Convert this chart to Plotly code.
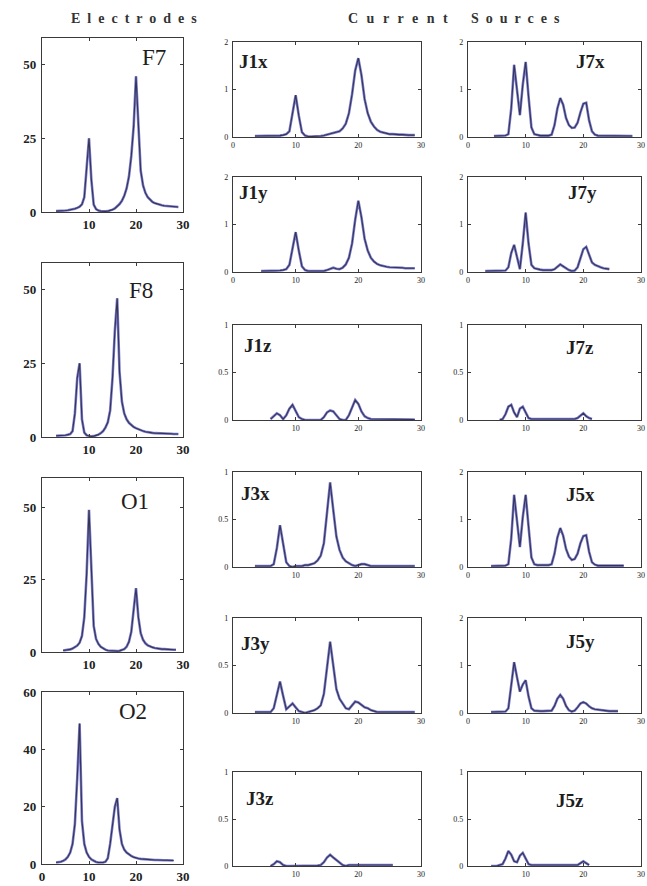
import plotly.graph_objects as go

W, H = 647, 886

# ---------------- data ----------------
freq = [3.0, 3.5, 4.0, 4.5, 5.0, 5.5, 6.0, 6.5, 7.0, 7.5,
        8.0, 8.5, 9.0, 9.5, 10.0, 10.5, 11.0, 11.5, 12.0, 12.5,
        13.0, 13.5, 14.0, 14.5, 15.0, 15.5, 16.0, 16.5, 17.0, 17.5,
        18.0, 18.5, 19.0, 19.5, 20.0, 20.5, 21.0, 21.5, 22.0, 22.5,
        23.0, 23.5, 24.0, 24.5, 25.0, 25.5, 26.0, 26.5, 27.0, 27.5,
        28.0, 28.5, 29.0]

F7 = [0.3, 0.3, 0.4, 0.5, 0.5, 0.6, 0.7, 0.9, 1.1, 1.4,
      1.8, 2.6, 5.0, 15, 25, 11, 2.5, 1.0, 0.5, 0.3,
      0.2, 0.2, 0.3, 0.5, 0.8, 1.2, 1.8, 2.7, 3.8, 5.5,
      8.0, 12, 19, 29, 46, 27, 14, 9.0, 6.5, 5.0,
      4.0, 3.4, 3.0, 2.7, 2.5, 2.3, 2.1, 2.0, 1.9, 1.9,
      1.8, 1.7, 1.7]
F8 = [0.4, 0.4, 0.5, 0.5, 0.6, 0.8, 1.0, 2.0, 8.0, 20,
      25, 6.0, 1.5, 0.6, 0.3, 0.2, 0.3, 0.5, 0.8, 1.3,
      2.0, 3.2, 5.0, 9.0, 20, 36, 47, 22, 12, 8.0,
      6.0, 4.8, 4.0, 3.4, 3.0, 2.6, 2.3, 2.0, 1.8, 1.6,
      1.5, 1.4, 1.3, 1.3, 1.2, 1.2, 1.2, 1.1, 1.1, 1.1,
      1.0, 1.0, 1.0]
O1 = [None, None, None, 0.5, 0.6, 0.7, 0.9, 1.2, 1.6, 2.2,
      3.2, 5.5, 12, 27, 49, 26, 9.0, 4.5, 2.8, 1.8,
      1.2, 0.8, 0.5, 0.4, 0.3, 0.3, 0.3, 0.4, 0.6, 1.0,
      1.8, 3.5, 7.0, 14, 22, 12, 6.5, 4.2, 3.0, 2.3,
      1.9, 1.6, 1.4, 1.2, 1.1, 1.0, 1.0, 0.9, 0.9, 0.9,
      0.8, 0.8, None]
O2 = [0.5, 0.6, 0.8, 1.1, 1.6, 2.5, 4.0, 7.0, 14, 30,
      49, 15, 7.0, 4.0, 2.5, 1.6, 1.0, 0.7, 0.5, 0.4,
      0.5, 0.8, 2.0, 7.0, 14, 20, 23, 12, 7.0, 5.0,
      4.0, 3.3, 2.8, 2.4, 2.1, 1.9, 1.8, 1.7, 1.6, 1.5,
      1.5, 1.4, 1.4, 1.4, 1.3, 1.3, 1.3, 1.3, 1.2, 1.2,
      1.2, None, None]

J1x = [None, 0.02, 0.02, 0.02, 0.02, 0.02, 0.02, 0.02, 0.03, 0.03,
       0.04, 0.06, 0.12, 0.5, 0.88, 0.45, 0.1, 0.03, 0.01, 0.01,
       0.01, 0.01, 0.02, 0.03, 0.05, 0.07, 0.08, 0.1, 0.12, 0.18,
       0.28, 0.5, 0.9, 1.4, 1.66, 1.3, 0.8, 0.5, 0.32, 0.22,
       0.15, 0.11, 0.09, 0.07, 0.06, 0.06, 0.05, 0.05, 0.05, 0.04,
       0.04, 0.04, 0.04]
J1y = [None, None, None, 0.02, 0.02, 0.02, 0.02, 0.02, 0.02, 0.03,
       0.04, 0.06, 0.15, 0.5, 0.84, 0.45, 0.12, 0.04, 0.02, 0.02,
       0.02, 0.02, 0.02, 0.02, 0.04, 0.07, 0.09, 0.07, 0.06, 0.09,
       0.16, 0.3, 0.6, 1.1, 1.5, 1.15, 0.7, 0.45, 0.3, 0.22,
       0.17, 0.14, 0.12, 0.11, 0.1, 0.1, 0.09, 0.09, 0.09, 0.08,
       0.08, 0.08, 0.08]
J1z = [None, None, None, None, None, None, 0.01, 0.04, 0.07, 0.05,
       0.01, 0.05, 0.12, 0.16, 0.1, 0.03, 0.01, 0.0, 0.0, 0.0,
       0.0, 0.0, 0.0, 0.03, 0.08, 0.1, 0.09, 0.05, 0.01, 0.0,
       0.0, 0.05, 0.14, 0.21, 0.17, 0.09, 0.04, 0.02, 0.01, 0.01,
       0.005, 0.005, 0.005, 0.005, 0.005, 0.005, 0.005, 0.005, 0.005, 0.005,
       0.005, 0.005, 0.005]
J3x = [None, 0.01, 0.01, 0.01, 0.01, 0.01, 0.01, 0.03, 0.2, 0.44,
       0.25, 0.05, 0.01, 0.0, 0.01, 0.01, 0.01, 0.02, 0.02, 0.03,
       0.04, 0.07, 0.12, 0.25, 0.55, 0.89, 0.6, 0.32, 0.18, 0.1,
       0.06, 0.04, 0.02, 0.01, 0.02, 0.03, 0.03, 0.02, 0.01, 0.01,
       0.01, 0.01, 0.01, 0.01, 0.01, 0.01, 0.01, 0.01, 0.01, 0.01,
       0.01, 0.01, 0.01]
J3y = [None, 0.01, 0.01, 0.01, 0.01, 0.01, 0.01, 0.05, 0.2, 0.33,
       0.18, 0.04, 0.07, 0.1, 0.06, 0.02, 0.01, 0.0, 0.01, 0.02,
       0.03, 0.05, 0.08, 0.2, 0.45, 0.75, 0.5, 0.25, 0.15, 0.1,
       0.05, 0.04, 0.08, 0.12, 0.11, 0.08, 0.06, 0.05, 0.03, 0.02,
       0.01, 0.01, 0.01, 0.01, 0.01, 0.01, 0.01, 0.01, 0.01, 0.01,
       0.01, 0.01, 0.01]
J3z = [None, None, None, None, None, None, 0.0, 0.02, 0.05, 0.04,
       0.01, 0.0, 0.0, 0.0, 0.0, 0.0, 0.0, 0.0, 0.0, 0.0,
       0.0, 0.005, 0.01, 0.04, 0.09, 0.12, 0.09, 0.06, 0.03, 0.01,
       0.0, 0.01, 0.01, 0.01, 0.01, 0.01, 0.01, 0.01, 0.01, 0.01,
       0.01, 0.01, 0.01, 0.01, 0.01, 0.01, None, None, None, None,
       None, None, None]
J7x = [None, None, None, 0.02, 0.02, 0.02, 0.02, 0.03, 0.06, 0.6,
       1.52, 0.95, 0.46, 1.1, 1.58, 0.85, 0.2, 0.06, 0.04, 0.03,
       0.03, 0.03, 0.03, 0.05, 0.25, 0.6, 0.82, 0.68, 0.4, 0.25,
       0.19, 0.2, 0.3, 0.52, 0.7, 0.72, 0.35, 0.12, 0.05, 0.03,
       0.03, 0.03, 0.03, 0.03, 0.03, 0.03, 0.03, 0.03, 0.03, 0.03,
       0.03, 0.02, None]
J7y = [0.02, 0.02, 0.02, 0.02, 0.02, 0.02, 0.02, 0.03, 0.1, 0.4,
       0.57, 0.3, 0.06, 0.6, 1.25, 0.6, 0.15, 0.08, 0.06, 0.05,
       0.04, 0.04, 0.04, 0.04, 0.06, 0.11, 0.16, 0.12, 0.07, 0.04,
       0.02, 0.03, 0.1, 0.3, 0.48, 0.53, 0.35, 0.2, 0.15, 0.12,
       0.1, 0.08, 0.07, 0.06, None, None, None, None, None, None,
       None, None, None]
J7z = [None, None, None, None, None, 0.0, 0.01, 0.06, 0.14, 0.16,
       0.08, 0.03, 0.12, 0.14, 0.07, 0.02, 0.01, 0.01, 0.01, 0.01,
       0.01, 0.01, 0.01, 0.01, 0.01, 0.01, 0.01, 0.01, 0.01, 0.01,
       0.01, 0.01, 0.02, 0.05, 0.07, 0.04, 0.02, 0.01, None, None,
       None, None, None, None, None, None, None, None, None, None,
       None, None, None]
J5x = [None, None, 0.02, 0.02, 0.02, 0.02, 0.02, 0.03, 0.06, 0.6,
       1.52, 0.95, 0.42, 1.05, 1.52, 0.85, 0.2, 0.06, 0.04, 0.04,
       0.04, 0.04, 0.04, 0.06, 0.28, 0.62, 0.82, 0.66, 0.38, 0.22,
       0.15, 0.17, 0.28, 0.5, 0.65, 0.67, 0.32, 0.1, 0.05, 0.03,
       0.03, 0.03, 0.03, 0.03, 0.03, 0.03, 0.03, 0.03, 0.03, None,
       None, None, None]
J5y = [None, None, 0.02, 0.02, 0.02, 0.02, 0.02, 0.03, 0.1, 0.6,
       1.07, 0.75, 0.45, 0.6, 0.69, 0.35, 0.1, 0.05, 0.04, 0.04,
       0.04, 0.04, 0.04, 0.05, 0.15, 0.3, 0.38, 0.3, 0.15, 0.06,
       0.03, 0.05, 0.12, 0.2, 0.23, 0.2, 0.14, 0.1, 0.08, 0.07,
       0.06, 0.05, 0.05, 0.04, 0.04, 0.04, 0.04, None, None, None,
       None, None, None]
J5z = [None, None, 0.0, 0.0, 0.0, 0.01, 0.02, 0.08, 0.16, 0.12,
       0.05, 0.04, 0.11, 0.14, 0.08, 0.02, 0.01, 0.01, 0.01, 0.01,
       0.01, 0.01, 0.01, 0.01, 0.01, 0.01, 0.01, 0.01, 0.01, 0.01,
       0.01, 0.01, 0.01, 0.03, 0.05, 0.03, 0.01, None, None, None,
       None, None, None, None, None, None, None, None, None, None,
       None, None, None]

electrode_names = ["F7", "F8", "O1", "O2"]
electrode_values = [F7, F8, O1, O2]
source_left_names = ["J1x", "J1y", "J1z", "J3x", "J3y", "J3z"]
source_left_values = [J1x, J1y, J1z, J3x, J3y, J3z]
source_right_names = ["J7x", "J7y", "J7z", "J5x", "J5y", "J5z"]
source_right_values = [J7x, J7y, J7z, J5x, J5y, J5z]

# ---------------- layout geometry (pixels) ----------------
elec_x = (42, 183)
elec_rows = [(38, 212), (263, 437), (478, 652), (692, 864)]
elec_yrange = [[0, 59], [0, 59], [0, 60], [0, 60]]
elec_ytick = [[0, 25, 50], [0, 25, 50], [0, 25, 50], [0, 20, 40, 60]]
elec_xtick = [[10, 20, 30], [10, 20, 30], [10, 20, 30], [0, 10, 20, 30]]
elec_label_pos = [(154, 57), (141, 290), (135, 501), (133, 711)]

mid_x = (233, 421)
right_x = (468, 641)
src_rows = [(42, 137), (177, 272), (325, 420), (472, 567), (618, 713), (772, 866)]
left_src_big = [True, True, False, False, False, False]
right_src_big = [True, True, False, True, True, False]
left_label_pos = [(253, 62), (253, 192), (258, 345), (255, 493), (255, 643), (260, 798)]
right_label_pos = [(590, 62), (582, 192), (580, 347), (580, 494), (580, 641), (570, 800)]

SERIF = "Liberation Serif"
AX = "#3a3a3a"
BLUE = "#7c7cd2"
DARK = "#353552"

fig = go.Figure()
layout = dict(width=W, height=H, margin=dict(l=0, r=0, t=0, b=0, pad=0, autoexpand=False),
              paper_bgcolor="white", plot_bgcolor="white", showlegend=False)
annotations = []
idx = [0]


def add_panel(vals, xbox, ybox, yrange, ytv, ytt, xtv, tick_font):
    idx[0] += 1
    i = idx[0]
    xa = "x" if i == 1 else f"x{i}"
    ya = "y" if i == 1 else f"y{i}"
    for col, wid in ((BLUE, 2.6), (DARK, 1.1)):
        fig.add_trace(go.Scatter(x=freq, y=vals, mode="lines", xaxis=xa, yaxis=ya,
                                 line=dict(color=col, width=wid), connectgaps=False,
                                 hoverinfo="skip"))
    common = dict(showgrid=False, zeroline=False, showline=True, linecolor=AX, linewidth=1.4,
                  mirror="allticks", ticks="inside", ticklen=3, tickcolor=AX, tickwidth=1,
                  tickfont=tick_font, automargin=False)
    layout["xaxis" if i == 1 else f"xaxis{i}"] = dict(
        domain=[xbox[0] / W, xbox[1] / W], anchor=ya, range=[0, 30],
        tickmode="array", tickvals=xtv, ticktext=[str(v) for v in xtv], ticklabelstandoff=0, **common)
    layout["yaxis" if i == 1 else f"yaxis{i}"] = dict(
        domain=[1 - ybox[1] / H, 1 - ybox[0] / H], anchor=xa, range=yrange,
        tickmode="array", tickvals=ytv, ticktext=ytt, ticklabelstandoff=2, **common)


def add_label(text, pos, size, bold=True):
    annotations.append(dict(text=text, x=pos[0] / W, y=1 - pos[1] / H, xref="paper", yref="paper",
                            xanchor="center", yanchor="middle", showarrow=False,
                            font=dict(family=SERIF, size=size, color="#1e1e1e",
                                      weight="bold" if bold else "normal")))


elec_font = dict(family=SERIF, size=13, color="#222", weight="bold")
src_font = dict(family=SERIF, size=8, color="#222")

for k in range(4):
    add_panel(electrode_values[k], elec_x, elec_rows[k], elec_yrange[k],
              elec_ytick[k], [str(v) for v in elec_ytick[k]], elec_xtick[k], elec_font)
    add_label(electrode_names[k], elec_label_pos[k], 23, bold=False)

for k in range(6):
    for names, values, xb, bigs, lpos in ((source_left_names, source_left_values, mid_x, left_src_big, left_label_pos),
                                          (source_right_names, source_right_values, right_x, right_src_big, right_label_pos)):
        big = bigs[k]
        yr = [0, 2] if big else [0, 1]
        ytv = [0, 1, 2] if big else [0, 0.5, 1]
        ytt = ["0", "1", "2"] if big else ["0", "0.5", "1"]
        xtv = [0, 10, 20, 30] if big else [10, 20, 30]
        add_panel(values[k], xb, src_rows[k], yr, ytv, ytt, xtv, src_font)
        add_label(names[k], lpos[k], 19, bold=True)

hdr = dict(family=SERIF, size=14, color="#333", weight="bold")
for txt, px, sp in (("Electrodes", 137, 7), ("Current", 402, 8.5), ("Sources", 518, 7)):
    annotations.append(dict(text=f'<span style="letter-spacing:{sp}px">{txt}</span>',
                            x=px / W, y=1 - 18 / H, xref="paper", yref="paper",
                            xanchor="center", yanchor="middle", showarrow=False, font=hdr))

layout["annotations"] = annotations
fig.update_layout(**layout)
fig.write_html("out.html", config={"displayModeBar": False},
               post_script="document.body.style.margin='0';document.body.style.overflow='hidden';")
